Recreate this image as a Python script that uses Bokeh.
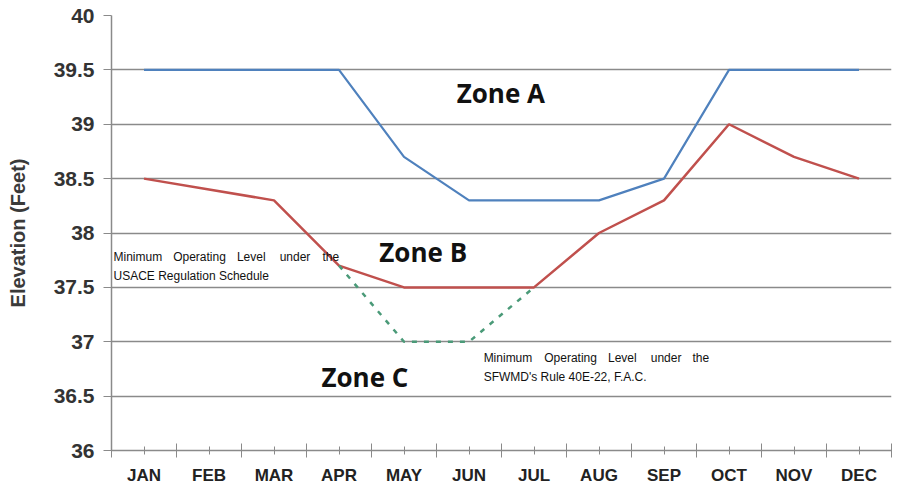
from bokeh.plotting import figure
from bokeh.models import FixedTicker, Label, Range1d
from bokeh.embed import file_html
from bokeh.resources import INLINE

months = ["JAN", "FEB", "MAR", "APR", "MAY", "JUN", "JUL", "AUG", "SEP", "OCT", "NOV", "DEC"]
zone_a_top = [39.5, 39.5, 39.5, 39.5, 38.7, 38.3, 38.3, 38.3, 38.5, 39.5, 39.5, 39.5]
zone_b_top = [38.5, 38.4, 38.3, 37.7, 37.5, 37.5, 37.5, 38.0, 38.3, 39.0, 38.7, 38.5]
sfwmd_months = ["APR", "MAY", "JUN", "JUL"]
sfwmd_level = [37.7, 37.0, 37.0, 37.5]
y_ticks = [36, 36.5, 37, 37.5, 38, 38.5, 39, 39.5, 40]

xi = list(range(len(months)))
xg = [months.index(m) for m in sfwmd_months]

p = figure(width=895, height=487, output_backend="svg", toolbar_location=None,
           x_range=Range1d(-0.5, len(months) - 0.5), y_range=Range1d(36, 40),
           min_border_left=111, min_border_right=4, min_border_top=15, min_border_bottom=35)
p.outline_line_color = None
p.background_fill_color = "white"
p.border_fill_color = "white"

p.xgrid.grid_line_color = None
p.ygrid.grid_line_color = "#8a8a8a"
p.ygrid.grid_line_width = 1.3
p.ygrid.ticker = FixedTicker(ticks=y_ticks)

p.yaxis.ticker = FixedTicker(ticks=y_ticks)
p.yaxis.major_label_overrides = {t: (str(int(t)) if t == int(t) else str(t)) for t in y_ticks}
p.yaxis.axis_label = "Elevation (Feet)"
p.yaxis.axis_label_text_font = "Liberation Sans"
p.yaxis.axis_label_text_font_style = "bold"
p.yaxis.axis_label_text_font_size = "20px"
p.yaxis.axis_label_text_color = "#3a3a3a"
p.yaxis.axis_label_standoff = 22
p.yaxis.major_label_text_font = "Liberation Sans"
p.yaxis.major_label_text_font_style = "bold"
p.yaxis.major_label_text_font_size = "21px"
p.yaxis.major_label_text_color = "#333333"
p.yaxis.major_label_standoff = 9
p.yaxis.major_tick_out = 8
p.yaxis.major_tick_in = 0
p.yaxis.minor_tick_line_color = None
p.yaxis.axis_line_color = "#8a8a8a"
p.yaxis.axis_line_width = 1.5
p.yaxis.major_tick_line_color = "#8a8a8a"

p.xaxis.ticker = FixedTicker(ticks=xi, minor_ticks=[i - 0.5 for i in range(len(months) + 1)])
p.xaxis.major_label_overrides = {i: m for i, m in enumerate(months)}
p.xaxis.major_label_text_font = "Liberation Sans"
p.xaxis.major_label_text_font_style = "bold"
p.xaxis.major_label_text_font_size = "17px"
p.xaxis.major_label_text_color = "#222222"
p.xaxis.major_label_standoff = 8
p.xaxis.major_tick_in = 4
p.xaxis.major_tick_out = 4
p.xaxis.minor_tick_in = 7
p.xaxis.minor_tick_out = 7
p.xaxis.axis_line_color = "#8a8a8a"
p.xaxis.axis_line_width = 1.5
p.xaxis.major_tick_line_color = "#8a8a8a"
p.xaxis.minor_tick_line_color = "#8a8a8a"

p.line(xi, zone_a_top, line_color="#4f81bd", line_width=2.2)
p.line(xi, zone_b_top, line_color="#c0504d", line_width=2.5)
p.line(xg, sfwmd_level, line_color="#4a9a78", line_width=2.5, line_dash="5 7")

for txt, x, y in [("Zone A", 4.81, 39.286), ("Zone B", 3.62, 37.822), ("Zone C", 2.73, 36.677)]:
    p.add_layout(Label(x=x, y=y, text=txt, text_font="Open Sans", text_font_style="bold",
                       text_font_size="26px", text_color="#111111", text_baseline="middle",
                       text_align="left"))

note_font = "Liberation Sans"
def note(words_x, y, words):
    for w, x in zip(words, words_x):
        p.add_layout(Label(x=x, y=y, text=w, text_font=note_font, text_font_size="12px",
                           text_color="#111111", text_baseline="middle", text_align="left"))

words1 = ["Minimum", "Operating", "Level", "under", "the"]
note([-0.469, 0.449, 1.429, 2.087, 2.745], 37.776, words1)
note([-0.469], 37.602, ["USACE Regulation Schedule"])
note([5.225, 6.158, 7.138, 7.796, 8.439], 36.851, words1)
note([5.225], 36.677, ["SFWMD's Rule 40E-22, F.A.C."])

open("out.html", "w").write(file_html(p, INLINE))
